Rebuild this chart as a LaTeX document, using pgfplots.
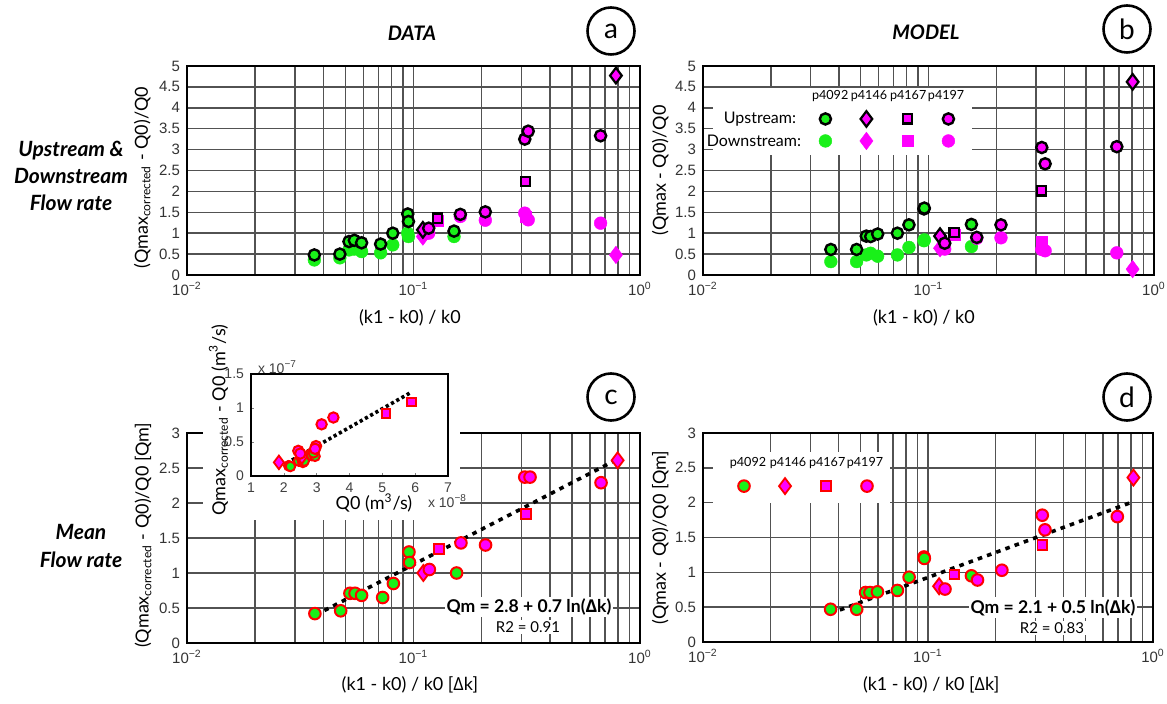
\documentclass[border=0pt]{standalone}
\usepackage{fontspec}
\setmainfont{Lato}
\newfontfamily\tickfont{Liberation Sans}
\newfontfamily\grk{Open Sans}
\usepackage{pgfplots}
\pgfplotsset{compat=1.18}
\definecolor{lgreen}{RGB}{25,240,25}
\definecolor{mag}{RGB}{255,0,255}
\definecolor{rred}{RGB}{255,0,0}
\tikzset{
 upG/.style={mark=*, mark size=2.8pt, mark options={fill=lgreen, draw=black, line width=1.2pt}},
 downG/.style={mark=*, mark size=3.2pt, mark options={fill=lgreen, draw=lgreen, line width=0.2pt}},
 upD/.style={mark=diamond*, mark size=3.9pt, mark options={fill=mag, draw=black, line width=1.1pt}},
 downD/.style={mark=diamond*, mark size=4.4pt, mark options={fill=mag, draw=mag, line width=0.2pt}},
 upS/.style={mark=square*, mark size=2.3pt, mark options={fill=mag, draw=black, line width=1.1pt}},
 downS/.style={mark=square*, mark size=2.8pt, mark options={fill=mag, draw=mag, line width=0.2pt}},
 upC/.style={mark=*, mark size=2.8pt, mark options={fill=mag, draw=black, line width=1.2pt}},
 downC/.style={mark=*, mark size=3.2pt, mark options={fill=mag, draw=mag, line width=0.2pt}},
 mG/.style={mark=*, mark size=2.9pt, mark options={fill=lgreen, draw=rred, line width=1pt}},
 mD/.style={mark=diamond*, mark size=4pt, mark options={fill=mag, draw=rred, line width=0.9pt}},
 mS/.style={mark=square*, mark size=2.4pt, mark options={fill=mag, draw=rred, line width=0.9pt}},
 mC/.style={mark=*, mark size=2.9pt, mark options={fill=mag, draw=rred, line width=1pt}},
 panellab/.style={circle, draw, line width=1.3pt, minimum size=23.5pt, inner sep=0pt, font=\fontsize{14}{14}\selectfont},
}
\pgfplotsset{
  mypanel/.style={
    scale only axis, xmin=0.01, xmax=1,
    xtick={0.01,0.1,1},
    xticklabels={10\textsuperscript{−2},10\textsuperscript{−1},10\textsuperscript{0}},
    xmajorgrids, xminorgrids, ymajorgrids,
    major grid style={black!68, line width=0.75pt},
    minor grid style={black!68, line width=0.75pt},
    axis line style={line width=1.1pt},
    major tick length=0pt, minor tick length=0pt,
    ticklabel style={font=\tickfont\fontsize{7.5}{8}\selectfont, text=black!80},
    /pgf/number format/assume math mode=true,
    yticklabel style={/pgf/number format/.cd, fixed, precision=1},
    label style={font=\fontsize{9}{10}\selectfont},
    clip=false,
  },
}
\begin{document}
\begin{tikzpicture}
\useasboundingbox (0pt,0pt) rectangle (583.5pt,-352pt);

% ---------------- panel a ----------------
\begin{axis}[xmode=log, mypanel, at={(93.5pt,-137.5pt)}, anchor=south west, width=226.5pt, height=104.5pt,
  ymin=0, ymax=5, ytick={0,0.5,1,1.5,2,2.5,3,3.5,4,4.5,5},
  ylabel={(Qmax\textsubscript{corrected} - Q0)/Q0}, xlabel={(k1 - k0) / k0},
  ylabel style={at={(axis description cs:-0.099,0.466)}, anchor=center},
  xlabel style={at={(axis description cs:0.492,-0.206)}, anchor=center}]
\addplot[only marks, downG] coordinates {(0.0365,0.36) (0.0473,0.41) (0.0519,0.60) (0.0548,0.62) (0.059,0.56) (0.0716,0.53) (0.081,0.72) (0.0943,1.0) (0.095,0.92) (0.151,0.92)};
\addplot[only marks, downD] coordinates {(0.11,0.92) (0.783,0.48)};
\addplot[only marks, downS] coordinates {(0.128,1.30) (0.312,1.40)};
\addplot[only marks, downC] coordinates {(0.1167,1.0) (0.161,1.40) (0.2075,1.31) (0.31,1.48) (0.321,1.32) (0.67,1.24)};
\addplot[only marks, upG] coordinates {(0.0365,0.48) (0.0473,0.50) (0.0519,0.80) (0.0548,0.83) (0.059,0.77) (0.0716,0.74) (0.081,1.0) (0.0943,1.46) (0.095,1.28) (0.151,1.05)};
\addplot[only marks, upD] coordinates {(0.11,1.08) (0.783,4.77)};
\addplot[only marks, upS] coordinates {(0.128,1.36) (0.312,2.23)};
\addplot[only marks, upC] coordinates {(0.1167,1.12) (0.161,1.45) (0.2075,1.51) (0.31,3.25) (0.321,3.44) (0.67,3.33)};
\end{axis}

% ---------------- panel b ----------------
\begin{axis}[xmode=log, mypanel, at={(351.5pt,-137.5pt)}, anchor=south west, width=225.5pt, height=104.5pt,
  ymin=0, ymax=5, ytick={0,0.5,1,1.5,2,2.5,3,3.5,4,4.5,5},
  ylabel={(Qmax - Q0)/Q0}, xlabel={(k1 - k0) / k0},
  ylabel style={at={(axis description cs:-0.095,0.5)}, anchor=center},
  xlabel style={at={(axis description cs:0.49,-0.206)}, anchor=center},
  legend image code/.code={\draw[#1] plot coordinates {(0pt,0pt)}; \path[draw=none, fill=none] (-9.75pt,-5.5pt) rectangle (9.75pt,5.5pt);},
  legend columns=4,
  legend style={at={(0.41,0.694)}, anchor=center, draw=none, fill=none, inner sep=0pt,
    column sep=0pt, row sep=0pt, nodes={draw=none, inner sep=0pt, outer sep=0pt}}]
\fill[white] (rel axis cs:0.022,0.574) rectangle (rel axis cs:0.596,0.895);
\addlegendimage{upG}\addlegendimage{upD}\addlegendimage{upS}\addlegendimage{upC}
\addlegendimage{downG}\addlegendimage{downD}\addlegendimage{downS}\addlegendimage{downC}
\addlegendentry{\mbox{}}\addlegendentry{\mbox{}}\addlegendentry{\mbox{}}\addlegendentry{\mbox{}}
\addlegendentry{\mbox{}}\addlegendentry{\mbox{}}\addlegendentry{\mbox{}}\addlegendentry{\mbox{}}
\addplot[only marks, downG] coordinates {(0.0369,0.32) (0.048,0.32) (0.053,0.48) (0.0554,0.52) (0.0595,0.45) (0.0728,0.48) (0.0819,0.66) (0.0958,0.84) (0.0955,0.82) (0.155,0.68)};
\addplot[only marks, downD] coordinates {(0.1125,0.64) (0.804,0.14)};
\addplot[only marks, downS] coordinates {(0.13,0.97) (0.318,0.80)};
\addplot[only marks, downC] coordinates {(0.118,0.62) (0.1637,0.88) (0.2096,0.89) (0.318,0.61) (0.329,0.58) (0.684,0.53)};
\addplot[only marks, upG] coordinates {(0.0369,0.61) (0.048,0.61) (0.053,0.93) (0.0554,0.92) (0.0595,0.98) (0.0728,1.0) (0.0819,1.2) (0.0955,1.58) (0.0958,1.6) (0.155,1.21)};
\addplot[only marks, upD] coordinates {(0.1125,0.93) (0.804,4.62)};
\addplot[only marks, upS] coordinates {(0.13,1.02) (0.318,2.01)};
\addplot[only marks, upC] coordinates {(0.118,0.76) (0.1637,0.9) (0.2096,1.2) (0.318,3.05) (0.329,2.66) (0.684,3.07)};
\node[anchor=east, font=\fontsize{8}{9}\selectfont] at (rel axis cs:0.222,0.746) {Upstream:};
\node[anchor=east, font=\fontsize{8}{9}\selectfont] at (rel axis cs:0.233,0.641) {Downstream:};
\node[font=\fontsize{6.3}{7}\selectfont] at (rel axis cs:0.282,0.856) {p4092};
\node[font=\fontsize{6.3}{7}\selectfont] at (rel axis cs:0.368,0.856) {p4146};
\node[font=\fontsize{6.3}{7}\selectfont] at (rel axis cs:0.455,0.856) {p4167};
\node[font=\fontsize{6.3}{7}\selectfont] at (rel axis cs:0.539,0.856) {p4197};
\end{axis}

% ---------------- panel c ----------------
\begin{axis}[xmode=log, mypanel, at={(93.5pt,-321.5pt)}, anchor=south west, width=226.5pt, height=105pt,
  ymin=0, ymax=3, ytick={0,0.5,1,1.5,2,2.5,3},
  ylabel={(Qmax\textsubscript{corrected} - Q0)/Q0 [Qm]}, xlabel={(k1 - k0) / k0 [{\grk Δ}k]},
  ylabel style={at={(axis description cs:-0.097,0.514)}, anchor=center},
  xlabel style={at={(axis description cs:0.492,-0.2)}, anchor=center}]
\fill[white] (rel axis cs:0.035,0.586) rectangle (rel axis cs:0.603,1.02);
\addplot[black, line width=1.8pt, dash pattern=on 2.3pt off 2.6pt] coordinates {(0.037,0.40) (0.8,2.63)};
\addplot[only marks, mG] coordinates {(0.0367,0.42) (0.0477,0.46) (0.0524,0.71) (0.0552,0.71) (0.059,0.68) (0.0731,0.65) (0.0815,0.85) (0.0955,1.30) (0.096,1.15) (0.155,1.0)};
\addplot[only marks, mD] coordinates {(0.1105,1.0) (0.797,2.61)};
\addplot[only marks, mS] coordinates {(0.1297,1.34) (0.314,1.84)};
\addplot[only marks, mC] coordinates {(0.1175,1.05) (0.162,1.43) (0.208,1.40) (0.31,2.37) (0.327,2.37) (0.673,2.29)};
\end{axis}

% ---------------- inset ----------------
\begin{axis}[scale only axis, at={(125.5pt,-238pt)}, anchor=south west, width=98.5pt, height=51pt,
  xmin=1, xmax=7, ymin=0, ymax=1.5, xtick={1,2,3,4,5,6,7}, ytick={0,0.5,1,1.5},
  tick align=inside, major tick length=1.5pt, tick pos=left, scaled ticks=false,
  axis line style={line width=0.8pt},
  ticklabel style={font=\tickfont\fontsize{7}{8}\selectfont, text=black!75},
  /pgf/number format/assume math mode=true,
  yticklabel style={/pgf/number format/.cd, fixed, precision=1},
  label style={font=\fontsize{9}{10}\selectfont},
  xlabel={Q0 (m\textsuperscript{3}/s)}, ylabel={Qmax\textsubscript{corrected} - Q0 (m\textsuperscript{3}/s)},
  xlabel style={at={(axis description cs:0.624,-0.265)}, anchor=center},
  ylabel style={at={(axis description cs:-0.165,0.55)}, anchor=center},
  clip=false]
\addplot[black, line width=1.8pt, dash pattern=on 1.6pt off 1.4pt] coordinates {(2.09,0.19) (5.84,1.22)};
\addplot[only marks, mG, mark size=2.4pt] coordinates {(2.15,0.15) (2.2,0.14) (2.45,0.22) (2.55,0.25) (2.58,0.2) (2.62,0.22) (2.8,0.32) (2.85,0.3) (2.95,0.29) (2.9,0.34)};
\addplot[only marks, mD, mark size=3.4pt] coordinates {(1.85,0.2) (2.55,0.28)};
\addplot[only marks, mS, mark size=2.1pt] coordinates {(5.11,0.92) (5.89,1.09)};
\addplot[only marks, mC, mark size=2.6pt] coordinates {(2.44,0.37) (2.5,0.33) (2.98,0.44) (2.95,0.4) (3.15,0.76) (3.51,0.86)};
\end{axis}
\node[anchor=west, font=\tickfont\fontsize{7}{8}\selectfont, text=black!75] at (125.5pt,-183.5pt) {x 10\textsuperscript{−7}};
\node[anchor=west, font=\tickfont\fontsize{7}{8}\selectfont, text=black!75] at (210.5pt,-250.5pt) {x 10\textsuperscript{−8}};

% ---------------- panel d ----------------
\begin{axis}[xmode=log, mypanel, at={(351.5pt,-321pt)}, anchor=south west, width=225pt, height=104.5pt,
  ymin=0, ymax=3, ytick={0,0.5,1,1.5,2,2.5,3},
  ylabel={(Qmax - Q0)/Q0 [Qm]}, xlabel={(k1 - k0) / k0 [{\grk Δ}k]},
  ylabel style={at={(axis description cs:-0.095,0.5)}, anchor=center},
  xlabel style={at={(axis description cs:0.507,-0.206)}, anchor=center},
  legend image code/.code={\draw[#1] plot coordinates {(0pt,0pt)}; \path[draw=none, fill=none] (-9.75pt,-5.5pt) rectangle (9.75pt,5.5pt);},
  legend columns=4,
  legend style={at={(0.23,0.746)}, anchor=center, draw=none, fill=none, inner sep=0pt,
    column sep=0pt, row sep=0pt, nodes={draw=none, inner sep=0pt, outer sep=0pt}}]
\fill[white] (rel axis cs:0.022,0.665) rectangle (rel axis cs:0.416,0.909);
\addlegendimage{mG}\addlegendimage{mD}\addlegendimage{mS}\addlegendimage{mC}
\addlegendentry{\mbox{}}\addlegendentry{\mbox{}}\addlegendentry{\mbox{}}\addlegendentry{\mbox{}}
\addplot[black, line width=1.8pt, dash pattern=on 2.3pt off 2.6pt] coordinates {(0.0406,0.46) (0.81,2.01)};
\addplot[only marks, mG] coordinates {(0.0369,0.47) (0.0482,0.47) (0.0528,0.71) (0.0552,0.71) (0.0596,0.72) (0.0731,0.74) (0.0824,0.93) (0.0960,1.22) (0.0963,1.2) (0.156,0.95)};
\addplot[only marks, mD] coordinates {(0.112,0.80) (0.818,2.36)};
\addplot[only marks, mS] coordinates {(0.131,0.97) (0.322,1.39)};
\addplot[only marks, mC] coordinates {(0.119,0.76) (0.166,0.89) (0.213,1.03) (0.322,1.82) (0.331,1.61) (0.694,1.80)};
\node[font=\fontsize{6.3}{7}\selectfont] at (rel axis cs:0.1,0.856) {p4092};
\node[font=\fontsize{6.3}{7}\selectfont] at (rel axis cs:0.189,0.856) {p4146};
\node[font=\fontsize{6.3}{7}\selectfont] at (rel axis cs:0.276,0.856) {p4167};
\node[font=\fontsize{6.3}{7}\selectfont] at (rel axis cs:0.36,0.856) {p4197};
\end{axis}

% equations
\node[fill=white, inner sep=1pt, font=\bfseries\fontsize{8.8}{10}\selectfont] at (264.5pt,-303.5pt) {Qm = 2.8 + 0.7 ln({\grk Δ}k)};
\node[fill=white, inner sep=1pt, font=\fontsize{7.5}{8}\selectfont] at (264pt,-313.5pt) {R2 = 0.91};
\node[fill=white, inner sep=1pt, font=\bfseries\fontsize{8.8}{10}\selectfont] at (526.5pt,-303.8pt) {Qm = 2.1 + 0.5 ln({\grk Δ}k)};
\node[fill=white, inner sep=1pt, font=\fontsize{7.5}{8}\selectfont] at (526pt,-314pt) {R2 = 0.83};

% titles and panel letters
\node[font=\bfseries\itshape\fontsize{10}{12}\selectfont] at (206pt,-16.5pt) {DATA};
\node[font=\bfseries\itshape\fontsize{10}{12}\selectfont] at (463pt,-16pt) {MODEL};
\node[panellab] at (305.5pt,-15.5pt) {a};
\node[panellab] at (563.5pt,-14.5pt) {b};
\node[panellab] at (305.5pt,-198.5pt) {c};
\node[panellab] at (563.5pt,-198.5pt) {d};
\node[align=center, font=\bfseries\itshape\fontsize{10.5}{13.5}\selectfont] at (35.5pt,-87.75pt) {Upstream \&\\Downstream\\Flow rate};
\node[align=center, font=\bfseries\itshape\fontsize{10.5}{14}\selectfont] at (40.5pt,-273pt) {Mean\\Flow rate};
\end{tikzpicture}
\end{document}
